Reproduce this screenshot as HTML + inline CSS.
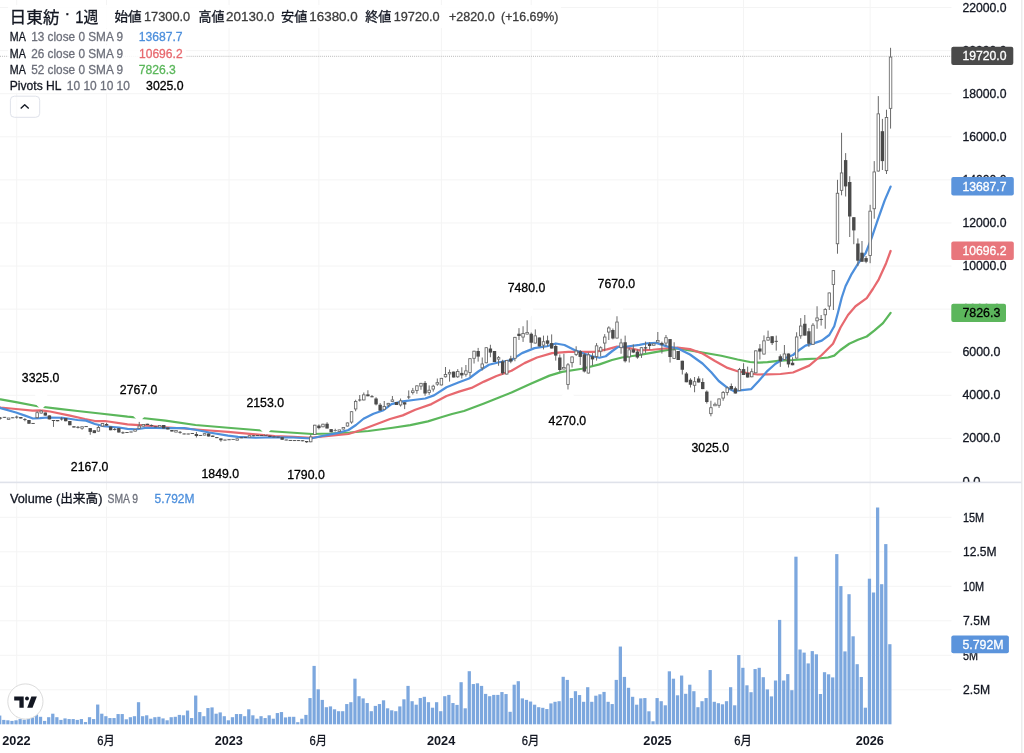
<!DOCTYPE html>
<html lang="ja"><head><meta charset="utf-8"><title>日東紡 1週</title><style>html,body{margin:0;padding:0;background:#fff}body{width:1024px;height:753px;overflow:hidden}</style></head><body>
<svg width="1024" height="753" viewBox="0 0 1024 753" style="display:block;font-family:'Liberation Sans','Noto Sans CJK JP',sans-serif">
<rect width="1024" height="753" fill="#fff"/>
<rect x="16.23" y="0" width="1" height="725.5" fill="#f4f4f4"/>
<rect x="106.07" y="0" width="1" height="725.5" fill="#f4f4f4"/>
<rect x="228.56" y="0" width="1" height="725.5" fill="#f4f4f4"/>
<rect x="318.40" y="0" width="1" height="725.5" fill="#f4f4f4"/>
<rect x="440.90" y="0" width="1" height="725.5" fill="#f4f4f4"/>
<rect x="530.73" y="0" width="1" height="725.5" fill="#f4f4f4"/>
<rect x="657.31" y="0" width="1" height="725.5" fill="#f4f4f4"/>
<rect x="743.06" y="0" width="1" height="725.5" fill="#f4f4f4"/>
<rect x="869.64" y="0" width="1" height="725.5" fill="#f4f4f4"/>
<rect x="0" y="437.91" width="951.5" height="1" fill="#f4f4f4"/>
<rect x="0" y="394.82" width="951.5" height="1" fill="#f4f4f4"/>
<rect x="0" y="351.73" width="951.5" height="1" fill="#f4f4f4"/>
<rect x="0" y="308.64" width="951.5" height="1" fill="#f4f4f4"/>
<rect x="0" y="265.55" width="951.5" height="1" fill="#f4f4f4"/>
<rect x="0" y="222.46" width="951.5" height="1" fill="#f4f4f4"/>
<rect x="0" y="179.37" width="951.5" height="1" fill="#f4f4f4"/>
<rect x="0" y="136.28" width="951.5" height="1" fill="#f4f4f4"/>
<rect x="0" y="93.19" width="951.5" height="1" fill="#f4f4f4"/>
<rect x="0" y="50.10" width="951.5" height="1" fill="#f4f4f4"/>
<rect x="0" y="7.01" width="951.5" height="1" fill="#f4f4f4"/>
<rect x="0" y="689.30" width="951.5" height="1" fill="#f4f4f4"/>
<rect x="0" y="654.80" width="951.5" height="1" fill="#f4f4f4"/>
<rect x="0" y="620.30" width="951.5" height="1" fill="#f4f4f4"/>
<rect x="0" y="585.80" width="951.5" height="1" fill="#f4f4f4"/>
<rect x="0" y="551.30" width="951.5" height="1" fill="#f4f4f4"/>
<rect x="0" y="516.80" width="951.5" height="1" fill="#f4f4f4"/>
<rect x="1021" y="0" width="1.5" height="753" fill="#ececec"/>
<rect x="0" y="481.6" width="1021.5" height="1.6" fill="#dfe2ea"/>
<line x1="0" y1="56.3" x2="951.5" y2="56.3" stroke="#b9b9b9" stroke-width="1" stroke-dasharray="1 1.05"/>
<rect x="-1.92" y="715.55" width="3.25" height="8.75" fill="#7ca7de"/>
<rect x="2.16" y="719.90" width="3.25" height="4.40" fill="#7ca7de"/>
<rect x="6.25" y="720.30" width="3.25" height="4.00" fill="#7ca7de"/>
<rect x="10.33" y="720.90" width="3.25" height="3.40" fill="#7ca7de"/>
<rect x="14.41" y="720.30" width="3.25" height="4.00" fill="#7ca7de"/>
<rect x="18.50" y="719.05" width="3.25" height="5.25" fill="#7ca7de"/>
<rect x="22.58" y="719.70" width="3.25" height="4.60" fill="#7ca7de"/>
<rect x="26.66" y="718.70" width="3.25" height="5.60" fill="#7ca7de"/>
<rect x="30.75" y="717.40" width="3.25" height="6.90" fill="#7ca7de"/>
<rect x="34.83" y="714.30" width="3.25" height="10.00" fill="#7ca7de"/>
<rect x="38.91" y="716.80" width="3.25" height="7.50" fill="#7ca7de"/>
<rect x="43.00" y="720.90" width="3.25" height="3.40" fill="#7ca7de"/>
<rect x="47.08" y="717.20" width="3.25" height="7.10" fill="#7ca7de"/>
<rect x="51.16" y="713.70" width="3.25" height="10.60" fill="#7ca7de"/>
<rect x="55.25" y="717.20" width="3.25" height="7.10" fill="#7ca7de"/>
<rect x="59.33" y="719.90" width="3.25" height="4.40" fill="#7ca7de"/>
<rect x="63.41" y="718.40" width="3.25" height="5.90" fill="#7ca7de"/>
<rect x="67.50" y="719.05" width="3.25" height="5.25" fill="#7ca7de"/>
<rect x="71.58" y="719.05" width="3.25" height="5.25" fill="#7ca7de"/>
<rect x="75.66" y="719.90" width="3.25" height="4.40" fill="#7ca7de"/>
<rect x="79.75" y="719.05" width="3.25" height="5.25" fill="#7ca7de"/>
<rect x="83.83" y="722.05" width="3.25" height="2.25" fill="#7ca7de"/>
<rect x="87.91" y="717.20" width="3.25" height="7.10" fill="#7ca7de"/>
<rect x="92.00" y="719.05" width="3.25" height="5.25" fill="#7ca7de"/>
<rect x="96.08" y="704.55" width="3.25" height="19.75" fill="#7ca7de"/>
<rect x="100.16" y="713.70" width="3.25" height="10.60" fill="#7ca7de"/>
<rect x="104.25" y="716.20" width="3.25" height="8.10" fill="#7ca7de"/>
<rect x="108.33" y="718.05" width="3.25" height="6.25" fill="#7ca7de"/>
<rect x="112.41" y="718.05" width="3.25" height="6.25" fill="#7ca7de"/>
<rect x="116.50" y="714.05" width="3.25" height="10.25" fill="#7ca7de"/>
<rect x="120.58" y="714.05" width="3.25" height="10.25" fill="#7ca7de"/>
<rect x="124.66" y="719.30" width="3.25" height="5.00" fill="#7ca7de"/>
<rect x="128.75" y="717.20" width="3.25" height="7.10" fill="#7ca7de"/>
<rect x="132.83" y="716.20" width="3.25" height="8.10" fill="#7ca7de"/>
<rect x="136.91" y="702.20" width="3.25" height="22.10" fill="#7ca7de"/>
<rect x="141.00" y="716.20" width="3.25" height="8.10" fill="#7ca7de"/>
<rect x="145.08" y="715.30" width="3.25" height="9.00" fill="#7ca7de"/>
<rect x="149.16" y="718.70" width="3.25" height="5.60" fill="#7ca7de"/>
<rect x="153.25" y="717.20" width="3.25" height="7.10" fill="#7ca7de"/>
<rect x="157.33" y="716.80" width="3.25" height="7.50" fill="#7ca7de"/>
<rect x="161.41" y="718.40" width="3.25" height="5.90" fill="#7ca7de"/>
<rect x="165.50" y="720.30" width="3.25" height="4.00" fill="#7ca7de"/>
<rect x="169.58" y="717.20" width="3.25" height="7.10" fill="#7ca7de"/>
<rect x="173.66" y="716.80" width="3.25" height="7.50" fill="#7ca7de"/>
<rect x="177.75" y="714.90" width="3.25" height="9.40" fill="#7ca7de"/>
<rect x="181.83" y="715.30" width="3.25" height="9.00" fill="#7ca7de"/>
<rect x="185.91" y="710.55" width="3.25" height="13.75" fill="#7ca7de"/>
<rect x="190.00" y="718.05" width="3.25" height="6.25" fill="#7ca7de"/>
<rect x="194.08" y="695.55" width="3.25" height="28.75" fill="#7ca7de"/>
<rect x="198.16" y="712.05" width="3.25" height="12.25" fill="#7ca7de"/>
<rect x="202.25" y="716.20" width="3.25" height="8.10" fill="#7ca7de"/>
<rect x="206.33" y="708.05" width="3.25" height="16.25" fill="#7ca7de"/>
<rect x="210.41" y="707.40" width="3.25" height="16.90" fill="#7ca7de"/>
<rect x="214.49" y="713.70" width="3.25" height="10.60" fill="#7ca7de"/>
<rect x="218.58" y="712.40" width="3.25" height="11.90" fill="#7ca7de"/>
<rect x="222.66" y="716.20" width="3.25" height="8.10" fill="#7ca7de"/>
<rect x="226.74" y="720.30" width="3.25" height="4.00" fill="#7ca7de"/>
<rect x="230.83" y="717.20" width="3.25" height="7.10" fill="#7ca7de"/>
<rect x="234.91" y="714.05" width="3.25" height="10.25" fill="#7ca7de"/>
<rect x="238.99" y="714.05" width="3.25" height="10.25" fill="#7ca7de"/>
<rect x="243.08" y="716.20" width="3.25" height="8.10" fill="#7ca7de"/>
<rect x="247.16" y="709.30" width="3.25" height="15.00" fill="#7ca7de"/>
<rect x="251.24" y="715.30" width="3.25" height="9.00" fill="#7ca7de"/>
<rect x="255.33" y="718.70" width="3.25" height="5.60" fill="#7ca7de"/>
<rect x="259.41" y="716.20" width="3.25" height="8.10" fill="#7ca7de"/>
<rect x="263.49" y="718.05" width="3.25" height="6.25" fill="#7ca7de"/>
<rect x="267.58" y="715.30" width="3.25" height="9.00" fill="#7ca7de"/>
<rect x="271.66" y="718.70" width="3.25" height="5.60" fill="#7ca7de"/>
<rect x="275.74" y="713.05" width="3.25" height="11.25" fill="#7ca7de"/>
<rect x="279.83" y="712.05" width="3.25" height="12.25" fill="#7ca7de"/>
<rect x="283.91" y="717.40" width="3.25" height="6.90" fill="#7ca7de"/>
<rect x="287.99" y="716.80" width="3.25" height="7.50" fill="#7ca7de"/>
<rect x="292.08" y="716.80" width="3.25" height="7.50" fill="#7ca7de"/>
<rect x="296.16" y="722.20" width="3.25" height="2.10" fill="#7ca7de"/>
<rect x="300.24" y="718.70" width="3.25" height="5.60" fill="#7ca7de"/>
<rect x="304.33" y="714.90" width="3.25" height="9.40" fill="#7ca7de"/>
<rect x="308.41" y="698.05" width="3.25" height="26.25" fill="#7ca7de"/>
<rect x="312.49" y="665.90" width="3.25" height="58.40" fill="#7ca7de"/>
<rect x="316.58" y="689.30" width="3.25" height="35.00" fill="#7ca7de"/>
<rect x="320.66" y="699.90" width="3.25" height="24.40" fill="#7ca7de"/>
<rect x="324.74" y="707.20" width="3.25" height="17.10" fill="#7ca7de"/>
<rect x="328.83" y="706.40" width="3.25" height="17.90" fill="#7ca7de"/>
<rect x="332.91" y="709.30" width="3.25" height="15.00" fill="#7ca7de"/>
<rect x="336.99" y="711.20" width="3.25" height="13.10" fill="#7ca7de"/>
<rect x="341.08" y="711.20" width="3.25" height="13.10" fill="#7ca7de"/>
<rect x="345.16" y="704.05" width="3.25" height="20.25" fill="#7ca7de"/>
<rect x="349.24" y="702.20" width="3.25" height="22.10" fill="#7ca7de"/>
<rect x="353.33" y="678.70" width="3.25" height="45.60" fill="#7ca7de"/>
<rect x="357.41" y="696.20" width="3.25" height="28.10" fill="#7ca7de"/>
<rect x="361.49" y="698.40" width="3.25" height="25.90" fill="#7ca7de"/>
<rect x="365.58" y="703.05" width="3.25" height="21.25" fill="#7ca7de"/>
<rect x="369.66" y="711.20" width="3.25" height="13.10" fill="#7ca7de"/>
<rect x="373.74" y="705.90" width="3.25" height="18.40" fill="#7ca7de"/>
<rect x="377.83" y="704.05" width="3.25" height="20.25" fill="#7ca7de"/>
<rect x="381.91" y="700.30" width="3.25" height="24.00" fill="#7ca7de"/>
<rect x="385.99" y="708.30" width="3.25" height="16.00" fill="#7ca7de"/>
<rect x="390.08" y="710.30" width="3.25" height="14.00" fill="#7ca7de"/>
<rect x="394.16" y="711.20" width="3.25" height="13.10" fill="#7ca7de"/>
<rect x="398.24" y="706.40" width="3.25" height="17.90" fill="#7ca7de"/>
<rect x="402.33" y="699.30" width="3.25" height="25.00" fill="#7ca7de"/>
<rect x="406.41" y="685.90" width="3.25" height="38.40" fill="#7ca7de"/>
<rect x="410.49" y="701.20" width="3.25" height="23.10" fill="#7ca7de"/>
<rect x="414.58" y="704.70" width="3.25" height="19.60" fill="#7ca7de"/>
<rect x="418.66" y="698.05" width="3.25" height="26.25" fill="#7ca7de"/>
<rect x="422.74" y="696.80" width="3.25" height="27.50" fill="#7ca7de"/>
<rect x="426.83" y="702.20" width="3.25" height="22.10" fill="#7ca7de"/>
<rect x="430.91" y="707.70" width="3.25" height="16.60" fill="#7ca7de"/>
<rect x="434.99" y="702.20" width="3.25" height="22.10" fill="#7ca7de"/>
<rect x="439.08" y="711.20" width="3.25" height="13.10" fill="#7ca7de"/>
<rect x="443.16" y="696.20" width="3.25" height="28.10" fill="#7ca7de"/>
<rect x="447.24" y="694.90" width="3.25" height="29.40" fill="#7ca7de"/>
<rect x="451.33" y="703.05" width="3.25" height="21.25" fill="#7ca7de"/>
<rect x="455.41" y="704.90" width="3.25" height="19.40" fill="#7ca7de"/>
<rect x="459.49" y="682.20" width="3.25" height="42.10" fill="#7ca7de"/>
<rect x="463.58" y="708.30" width="3.25" height="16.00" fill="#7ca7de"/>
<rect x="467.66" y="671.20" width="3.25" height="53.10" fill="#7ca7de"/>
<rect x="471.74" y="684.05" width="3.25" height="40.25" fill="#7ca7de"/>
<rect x="475.83" y="683.30" width="3.25" height="41.00" fill="#7ca7de"/>
<rect x="479.91" y="685.90" width="3.25" height="38.40" fill="#7ca7de"/>
<rect x="483.99" y="693.90" width="3.25" height="30.40" fill="#7ca7de"/>
<rect x="488.08" y="696.20" width="3.25" height="28.10" fill="#7ca7de"/>
<rect x="492.16" y="694.90" width="3.25" height="29.40" fill="#7ca7de"/>
<rect x="496.24" y="694.90" width="3.25" height="29.40" fill="#7ca7de"/>
<rect x="500.33" y="692.05" width="3.25" height="32.25" fill="#7ca7de"/>
<rect x="504.41" y="694.05" width="3.25" height="30.25" fill="#7ca7de"/>
<rect x="508.49" y="711.80" width="3.25" height="12.50" fill="#7ca7de"/>
<rect x="512.58" y="684.70" width="3.25" height="39.60" fill="#7ca7de"/>
<rect x="516.66" y="681.20" width="3.25" height="43.10" fill="#7ca7de"/>
<rect x="520.74" y="698.40" width="3.25" height="25.90" fill="#7ca7de"/>
<rect x="524.83" y="699.90" width="3.25" height="24.40" fill="#7ca7de"/>
<rect x="528.91" y="701.55" width="3.25" height="22.75" fill="#7ca7de"/>
<rect x="532.99" y="704.70" width="3.25" height="19.60" fill="#7ca7de"/>
<rect x="537.08" y="707.20" width="3.25" height="17.10" fill="#7ca7de"/>
<rect x="541.16" y="707.80" width="3.25" height="16.50" fill="#7ca7de"/>
<rect x="545.24" y="709.05" width="3.25" height="15.25" fill="#7ca7de"/>
<rect x="549.33" y="703.40" width="3.25" height="20.90" fill="#7ca7de"/>
<rect x="553.41" y="701.80" width="3.25" height="22.50" fill="#7ca7de"/>
<rect x="557.49" y="701.20" width="3.25" height="23.10" fill="#7ca7de"/>
<rect x="561.58" y="676.80" width="3.25" height="47.50" fill="#7ca7de"/>
<rect x="565.66" y="679.90" width="3.25" height="44.40" fill="#7ca7de"/>
<rect x="569.74" y="698.05" width="3.25" height="26.25" fill="#7ca7de"/>
<rect x="573.83" y="691.20" width="3.25" height="33.10" fill="#7ca7de"/>
<rect x="577.91" y="695.05" width="3.25" height="29.25" fill="#7ca7de"/>
<rect x="581.99" y="701.80" width="3.25" height="22.50" fill="#7ca7de"/>
<rect x="586.08" y="687.20" width="3.25" height="37.10" fill="#7ca7de"/>
<rect x="590.16" y="701.80" width="3.25" height="22.50" fill="#7ca7de"/>
<rect x="594.24" y="695.70" width="3.25" height="28.60" fill="#7ca7de"/>
<rect x="598.33" y="694.30" width="3.25" height="30.00" fill="#7ca7de"/>
<rect x="602.41" y="691.90" width="3.25" height="32.40" fill="#7ca7de"/>
<rect x="606.49" y="701.80" width="3.25" height="22.50" fill="#7ca7de"/>
<rect x="610.57" y="704.05" width="3.25" height="20.25" fill="#7ca7de"/>
<rect x="614.66" y="679.90" width="3.25" height="44.40" fill="#7ca7de"/>
<rect x="618.74" y="646.55" width="3.25" height="77.75" fill="#7ca7de"/>
<rect x="622.82" y="676.90" width="3.25" height="47.40" fill="#7ca7de"/>
<rect x="626.91" y="687.80" width="3.25" height="36.50" fill="#7ca7de"/>
<rect x="630.99" y="696.80" width="3.25" height="27.50" fill="#7ca7de"/>
<rect x="635.07" y="704.70" width="3.25" height="19.60" fill="#7ca7de"/>
<rect x="639.16" y="698.40" width="3.25" height="25.90" fill="#7ca7de"/>
<rect x="643.24" y="698.05" width="3.25" height="26.25" fill="#7ca7de"/>
<rect x="647.32" y="711.30" width="3.25" height="13.00" fill="#7ca7de"/>
<rect x="651.41" y="721.30" width="3.25" height="3.00" fill="#7ca7de"/>
<rect x="655.49" y="698.05" width="3.25" height="26.25" fill="#7ca7de"/>
<rect x="659.57" y="701.20" width="3.25" height="23.10" fill="#7ca7de"/>
<rect x="663.66" y="705.30" width="3.25" height="19.00" fill="#7ca7de"/>
<rect x="667.74" y="671.30" width="3.25" height="53.00" fill="#7ca7de"/>
<rect x="671.82" y="678.70" width="3.25" height="45.60" fill="#7ca7de"/>
<rect x="675.91" y="695.30" width="3.25" height="29.00" fill="#7ca7de"/>
<rect x="679.99" y="675.55" width="3.25" height="48.75" fill="#7ca7de"/>
<rect x="684.07" y="693.80" width="3.25" height="30.50" fill="#7ca7de"/>
<rect x="688.16" y="684.70" width="3.25" height="39.60" fill="#7ca7de"/>
<rect x="692.24" y="691.20" width="3.25" height="33.10" fill="#7ca7de"/>
<rect x="696.32" y="707.20" width="3.25" height="17.10" fill="#7ca7de"/>
<rect x="700.41" y="701.20" width="3.25" height="23.10" fill="#7ca7de"/>
<rect x="704.49" y="698.05" width="3.25" height="26.25" fill="#7ca7de"/>
<rect x="708.57" y="670.05" width="3.25" height="54.25" fill="#7ca7de"/>
<rect x="712.66" y="701.80" width="3.25" height="22.50" fill="#7ca7de"/>
<rect x="716.74" y="703.20" width="3.25" height="21.10" fill="#7ca7de"/>
<rect x="720.82" y="704.30" width="3.25" height="20.00" fill="#7ca7de"/>
<rect x="724.91" y="701.20" width="3.25" height="23.10" fill="#7ca7de"/>
<rect x="728.99" y="687.20" width="3.25" height="37.10" fill="#7ca7de"/>
<rect x="733.07" y="705.30" width="3.25" height="19.00" fill="#7ca7de"/>
<rect x="737.16" y="655.05" width="3.25" height="69.25" fill="#7ca7de"/>
<rect x="741.24" y="667.80" width="3.25" height="56.50" fill="#7ca7de"/>
<rect x="745.32" y="685.30" width="3.25" height="39.00" fill="#7ca7de"/>
<rect x="749.41" y="692.20" width="3.25" height="32.10" fill="#7ca7de"/>
<rect x="753.49" y="669.05" width="3.25" height="55.25" fill="#7ca7de"/>
<rect x="757.57" y="667.80" width="3.25" height="56.50" fill="#7ca7de"/>
<rect x="761.66" y="677.20" width="3.25" height="47.10" fill="#7ca7de"/>
<rect x="765.74" y="689.40" width="3.25" height="34.90" fill="#7ca7de"/>
<rect x="769.82" y="696.40" width="3.25" height="27.90" fill="#7ca7de"/>
<rect x="773.91" y="680.50" width="3.25" height="43.80" fill="#7ca7de"/>
<rect x="777.99" y="619.90" width="3.25" height="104.40" fill="#7ca7de"/>
<rect x="782.07" y="680.50" width="3.25" height="43.80" fill="#7ca7de"/>
<rect x="786.16" y="674.10" width="3.25" height="50.20" fill="#7ca7de"/>
<rect x="790.24" y="690.20" width="3.25" height="34.10" fill="#7ca7de"/>
<rect x="794.32" y="556.70" width="3.25" height="167.60" fill="#7ca7de"/>
<rect x="798.41" y="649.50" width="3.25" height="74.80" fill="#7ca7de"/>
<rect x="802.49" y="652.60" width="3.25" height="71.70" fill="#7ca7de"/>
<rect x="806.57" y="663.40" width="3.25" height="60.90" fill="#7ca7de"/>
<rect x="810.66" y="651.10" width="3.25" height="73.20" fill="#7ca7de"/>
<rect x="814.74" y="654.30" width="3.25" height="70.00" fill="#7ca7de"/>
<rect x="818.82" y="694.00" width="3.25" height="30.30" fill="#7ca7de"/>
<rect x="822.91" y="672.20" width="3.25" height="52.10" fill="#7ca7de"/>
<rect x="826.99" y="674.30" width="3.25" height="50.00" fill="#7ca7de"/>
<rect x="831.07" y="677.40" width="3.25" height="46.90" fill="#7ca7de"/>
<rect x="835.16" y="554.10" width="3.25" height="170.20" fill="#7ca7de"/>
<rect x="839.24" y="586.10" width="3.25" height="138.20" fill="#7ca7de"/>
<rect x="843.32" y="651.40" width="3.25" height="72.90" fill="#7ca7de"/>
<rect x="847.41" y="594.20" width="3.25" height="130.10" fill="#7ca7de"/>
<rect x="851.49" y="636.30" width="3.25" height="88.00" fill="#7ca7de"/>
<rect x="855.57" y="664.20" width="3.25" height="60.10" fill="#7ca7de"/>
<rect x="859.66" y="677.00" width="3.25" height="47.30" fill="#7ca7de"/>
<rect x="863.74" y="707.70" width="3.25" height="16.60" fill="#7ca7de"/>
<rect x="867.82" y="578.70" width="3.25" height="145.60" fill="#7ca7de"/>
<rect x="871.91" y="592.50" width="3.25" height="131.80" fill="#7ca7de"/>
<rect x="875.99" y="507.50" width="3.25" height="216.80" fill="#7ca7de"/>
<rect x="880.07" y="584.20" width="3.25" height="140.10" fill="#7ca7de"/>
<rect x="884.16" y="544.10" width="3.25" height="180.20" fill="#7ca7de"/>
<rect x="888.24" y="644.20" width="3.25" height="80.10" fill="#7ca7de"/>
<polyline points="0.00,399.30 0.60,399.40 16.00,402.20 37.50,406.25 57.00,408.60 77.50,411.00 100.00,413.50 127.50,416.70 146.75,418.50 165.50,420.60 195.50,425.00 228.00,427.75 255.50,430.00 274.75,431.50 293.50,432.75 312.25,434.00 331.00,433.50 349.75,432.50 368.50,431.00 383.50,429.00 392.75,427.75 410.30,425.20 427.90,421.40 442.00,417.00 452.00,414.00 464.00,411.00 484.00,403.50 496.50,398.50 511.50,392.50 530.75,383.75 549.50,375.60 562.00,371.90 582.00,368.75 599.50,364.40 612.00,360.00 622.00,357.50 639.50,355.00 652.50,352.60 665.00,350.40 677.50,348.50 690.00,350.40 702.50,352.50 721.25,355.75 737.50,359.50 750.00,362.00 758.75,362.60 767.50,362.20 780.50,360.60 793.00,360.00 805.50,359.10 818.00,358.50 828.00,357.50 834.25,355.60 840.50,350.00 849.25,343.75 858.00,339.75 866.75,336.50 874.25,330.60 883.00,323.10 890.60,312.90" fill="none" stroke="#5bb75b" stroke-width="2.25" stroke-linejoin="round" stroke-linecap="round"/>
<polyline points="0.00,407.40 0.60,407.50 16.00,409.00 32.50,410.60 41.00,410.40 50.00,411.50 70.00,415.60 85.00,419.00 95.00,421.00 105.00,421.00 127.50,424.30 146.75,425.60 165.50,427.25 184.25,428.50 203.00,430.00 228.00,431.90 255.50,434.40 274.75,436.00 293.50,436.90 311.00,437.75 331.00,435.60 348.50,434.00 361.00,430.00 383.50,421.50 390.00,419.00 402.75,415.40 415.25,409.75 431.50,404.10 446.50,396.00 459.00,391.60 471.50,387.90 484.00,381.60 496.50,376.00 511.50,370.70 524.50,363.10 537.00,357.50 552.00,353.10 568.25,351.90 582.00,351.90 594.50,351.90 607.00,349.40 617.00,346.60 627.00,347.50 639.50,350.30 652.50,349.75 665.00,348.50 677.50,347.50 690.00,349.10 702.50,353.50 715.00,361.00 727.50,367.90 737.50,371.25 750.00,373.50 757.50,374.50 767.50,374.30 780.50,374.00 793.00,372.50 809.25,365.60 821.75,355.00 833.00,343.75 840.50,327.50 848.00,315.00 855.50,306.25 866.75,298.10 873.00,288.75 878.80,279.30 886.10,263.20 890.60,251.00" fill="none" stroke="#e7696f" stroke-width="2.25" stroke-linejoin="round" stroke-linecap="round"/>
<polyline points="0.00,407.90 0.60,408.10 16.00,412.50 25.00,415.60 33.00,418.50 40.00,418.10 47.50,417.50 62.50,417.75 77.50,420.00 86.00,420.60 95.00,424.00 104.00,426.25 119.00,427.50 127.50,428.80 135.50,429.40 146.75,427.75 165.50,428.10 184.25,428.10 195.50,429.75 209.25,432.50 228.00,435.60 238.00,436.90 255.50,437.75 274.75,437.25 293.50,437.50 311.00,438.50 321.00,436.25 337.25,433.10 348.50,430.00 356.00,425.00 363.50,418.75 373.50,413.75 383.50,410.20 391.50,404.10 402.75,401.40 415.25,399.75 425.25,398.50 434.00,395.40 446.50,387.25 459.00,382.25 469.00,378.50 479.00,371.00 489.00,364.75 499.00,362.25 511.50,360.00 522.00,353.10 534.50,348.10 547.00,346.25 555.75,343.50 564.50,345.00 574.50,350.00 584.50,353.75 592.00,356.25 599.50,357.75 605.75,356.25 612.00,351.25 618.25,346.90 627.00,346.50 639.50,344.90 647.50,343.25 656.25,342.90 667.50,346.60 677.50,348.25 690.00,354.50 702.50,363.50 711.25,372.25 718.75,381.00 727.50,387.90 733.75,391.00 740.00,390.40 751.25,389.10 758.75,381.00 767.50,370.80 775.50,363.75 784.25,358.50 793.00,355.00 799.25,350.00 805.50,345.60 814.25,343.10 821.75,340.60 829.25,335.00 834.25,326.25 838.00,312.50 841.75,297.50 845.50,286.25 851.10,274.90 858.40,263.20 865.70,253.00 871.50,238.40 877.40,220.90 884.70,200.40 890.60,186.60" fill="none" stroke="#4d8fdc" stroke-width="2.25" stroke-linejoin="round" stroke-linecap="round"/>
<polygon points="41.23,409.86 35.23,403.86 35.23,388.86 47.23,388.86 47.23,403.86" fill="#fff"/>
<polygon points="139.23,421.88 133.23,415.88 133.23,400.88 145.23,400.88 145.23,415.88" fill="#fff"/>
<polygon points="265.81,435.11 259.81,429.11 259.81,414.11 271.81,414.11 271.81,429.11" fill="#fff"/>
<polygon points="527.15,320.34 521.15,314.34 521.15,299.34 533.15,299.34 533.15,314.34" fill="#fff"/>
<polygon points="616.98,316.25 610.98,310.25 610.98,295.25 622.98,295.25 622.98,310.25" fill="#fff"/>
<polygon points="90.23,434.81 84.23,440.81 84.23,455.81 96.23,455.81 96.23,440.81" fill="#fff"/>
<polygon points="220.90,441.66 214.90,447.66 214.90,462.66 226.90,462.66 226.90,447.66" fill="#fff"/>
<polygon points="306.65,442.93 300.65,448.93 300.65,463.93 312.65,463.93 312.65,448.93" fill="#fff"/>
<polygon points="567.98,389.50 561.98,395.50 561.98,410.50 573.98,410.50 573.98,395.50" fill="#fff"/>
<polygon points="710.89,416.33 704.89,422.33 704.89,437.33 716.89,437.33 716.89,422.33" fill="#fff"/>
<rect x="-0.10" y="417.00" width="1" height="2.50" fill="#6a6a6a"/>
<rect x="-1.30" y="417.65" width="3.4" height="0.90" fill="#4a4a4a"/>
<rect x="3.98" y="417.00" width="1" height="0.60" fill="#6a6a6a"/>
<rect x="2.78" y="416.85" width="3.4" height="0.90" fill="#4a4a4a"/>
<rect x="8.07" y="418.00" width="1" height="1.50" fill="#6a6a6a"/>
<rect x="7.27" y="418.00" width="2.6" height="1.50" fill="#fff" stroke="#666" stroke-width="0.8"/>
<rect x="12.15" y="417.50" width="1" height="0.60" fill="#6a6a6a"/>
<rect x="10.95" y="417.35" width="3.4" height="0.90" fill="#4a4a4a"/>
<rect x="16.23" y="415.60" width="1" height="3.15" fill="#6a6a6a"/>
<rect x="15.03" y="416.65" width="3.4" height="0.90" fill="#4a4a4a"/>
<rect x="20.32" y="417.00" width="1" height="1.50" fill="#6a6a6a"/>
<rect x="19.12" y="417.00" width="3.4" height="1.50" fill="#4a4a4a"/>
<rect x="24.40" y="418.10" width="1" height="3.15" fill="#6a6a6a"/>
<rect x="23.20" y="419.15" width="3.4" height="0.90" fill="#4a4a4a"/>
<rect x="28.48" y="420.00" width="1" height="3.75" fill="#6a6a6a"/>
<rect x="27.28" y="420.00" width="3.4" height="3.75" fill="#4a4a4a"/>
<rect x="32.57" y="423.10" width="1" height="0.60" fill="#6a6a6a"/>
<rect x="31.37" y="422.95" width="3.4" height="0.90" fill="#4a4a4a"/>
<rect x="36.65" y="411.25" width="1" height="7.25" fill="#6a6a6a"/>
<rect x="35.90" y="412.70" width="2.5" height="4.95" fill="#fff" stroke="#666" stroke-width="0.85"/>
<rect x="40.73" y="409.90" width="1" height="3.60" fill="#6a6a6a"/>
<rect x="39.98" y="411.05" width="2.5" height="2.00" fill="#fff" stroke="#666" stroke-width="0.85"/>
<rect x="44.82" y="412.50" width="1" height="3.10" fill="#6a6a6a"/>
<rect x="43.62" y="412.50" width="3.4" height="3.10" fill="#4a4a4a"/>
<rect x="48.90" y="415.40" width="1" height="4.00" fill="#6a6a6a"/>
<rect x="47.70" y="415.40" width="3.4" height="4.00" fill="#4a4a4a"/>
<rect x="52.98" y="420.00" width="1" height="6.90" fill="#6a6a6a"/>
<rect x="51.78" y="420.00" width="3.4" height="1.00" fill="#4a4a4a"/>
<rect x="57.07" y="420.00" width="1" height="1.25" fill="#6a6a6a"/>
<rect x="55.87" y="420.00" width="3.4" height="1.25" fill="#4a4a4a"/>
<rect x="61.15" y="416.90" width="1" height="3.70" fill="#6a6a6a"/>
<rect x="59.95" y="418.55" width="3.4" height="0.90" fill="#4a4a4a"/>
<rect x="65.23" y="418.10" width="1" height="3.15" fill="#6a6a6a"/>
<rect x="64.03" y="418.10" width="3.4" height="3.15" fill="#4a4a4a"/>
<rect x="69.32" y="421.00" width="1" height="4.25" fill="#6a6a6a"/>
<rect x="68.12" y="421.00" width="3.4" height="4.25" fill="#4a4a4a"/>
<rect x="73.40" y="426.25" width="1" height="1.25" fill="#6a6a6a"/>
<rect x="72.20" y="426.25" width="3.4" height="1.25" fill="#4a4a4a"/>
<rect x="77.48" y="426.00" width="1" height="2.50" fill="#6a6a6a"/>
<rect x="76.28" y="426.85" width="3.4" height="0.90" fill="#4a4a4a"/>
<rect x="81.57" y="426.50" width="1" height="3.25" fill="#6a6a6a"/>
<rect x="80.77" y="426.75" width="2.6" height="1.50" fill="#fff" stroke="#666" stroke-width="0.8"/>
<rect x="85.65" y="426.30" width="1" height="0.60" fill="#6a6a6a"/>
<rect x="84.45" y="426.15" width="3.4" height="0.90" fill="#4a4a4a"/>
<rect x="89.73" y="428.10" width="1" height="6.70" fill="#6a6a6a"/>
<rect x="88.53" y="428.10" width="3.4" height="3.80" fill="#4a4a4a"/>
<rect x="93.82" y="430.25" width="1" height="2.85" fill="#6a6a6a"/>
<rect x="92.62" y="430.25" width="3.4" height="2.85" fill="#4a4a4a"/>
<rect x="97.90" y="425.60" width="1" height="6.00" fill="#6a6a6a"/>
<rect x="97.15" y="427.55" width="2.5" height="3.60" fill="#fff" stroke="#666" stroke-width="0.85"/>
<rect x="101.98" y="423.10" width="1" height="3.40" fill="#6a6a6a"/>
<rect x="101.23" y="423.55" width="2.5" height="2.50" fill="#fff" stroke="#666" stroke-width="0.85"/>
<rect x="106.07" y="422.75" width="1" height="2.85" fill="#6a6a6a"/>
<rect x="104.87" y="424.00" width="3.4" height="1.60" fill="#4a4a4a"/>
<rect x="110.15" y="426.50" width="1" height="3.75" fill="#6a6a6a"/>
<rect x="108.95" y="426.50" width="3.4" height="3.75" fill="#4a4a4a"/>
<rect x="114.23" y="428.00" width="1" height="2.50" fill="#6a6a6a"/>
<rect x="113.03" y="428.95" width="3.4" height="0.90" fill="#4a4a4a"/>
<rect x="118.32" y="428.10" width="1" height="4.40" fill="#6a6a6a"/>
<rect x="117.12" y="428.10" width="3.4" height="4.40" fill="#4a4a4a"/>
<rect x="122.40" y="431.50" width="1" height="2.50" fill="#6a6a6a"/>
<rect x="121.20" y="432.35" width="3.4" height="0.90" fill="#4a4a4a"/>
<rect x="126.48" y="432.20" width="1" height="0.60" fill="#6a6a6a"/>
<rect x="125.28" y="432.05" width="3.4" height="0.90" fill="#4a4a4a"/>
<rect x="130.57" y="431.70" width="1" height="0.60" fill="#6a6a6a"/>
<rect x="129.37" y="431.55" width="3.4" height="0.90" fill="#4a4a4a"/>
<rect x="134.65" y="429.40" width="1" height="2.10" fill="#6a6a6a"/>
<rect x="133.85" y="429.70" width="2.6" height="1.50" fill="#fff" stroke="#666" stroke-width="0.8"/>
<rect x="138.73" y="421.90" width="1" height="6.85" fill="#6a6a6a"/>
<rect x="137.98" y="426.05" width="2.5" height="2.25" fill="#fff" stroke="#666" stroke-width="0.85"/>
<rect x="142.82" y="424.40" width="1" height="1.85" fill="#6a6a6a"/>
<rect x="142.02" y="424.57" width="2.6" height="1.50" fill="#fff" stroke="#666" stroke-width="0.8"/>
<rect x="146.90" y="423.75" width="1" height="1.25" fill="#6a6a6a"/>
<rect x="145.70" y="423.75" width="3.4" height="1.25" fill="#4a4a4a"/>
<rect x="150.98" y="424.50" width="1" height="2.00" fill="#6a6a6a"/>
<rect x="149.78" y="424.95" width="3.4" height="0.90" fill="#4a4a4a"/>
<rect x="155.07" y="426.50" width="1" height="0.75" fill="#6a6a6a"/>
<rect x="153.87" y="426.43" width="3.4" height="0.90" fill="#4a4a4a"/>
<rect x="159.15" y="425.40" width="1" height="1.85" fill="#6a6a6a"/>
<rect x="158.35" y="425.57" width="2.6" height="1.50" fill="#fff" stroke="#666" stroke-width="0.8"/>
<rect x="163.23" y="425.00" width="1" height="3.50" fill="#6a6a6a"/>
<rect x="162.03" y="425.00" width="3.4" height="3.50" fill="#4a4a4a"/>
<rect x="167.32" y="427.50" width="1" height="1.90" fill="#6a6a6a"/>
<rect x="166.12" y="427.50" width="3.4" height="1.90" fill="#4a4a4a"/>
<rect x="171.40" y="430.00" width="1" height="1.50" fill="#6a6a6a"/>
<rect x="170.20" y="430.00" width="3.4" height="1.50" fill="#4a4a4a"/>
<rect x="175.48" y="430.40" width="1" height="1.85" fill="#6a6a6a"/>
<rect x="174.68" y="430.57" width="2.6" height="1.50" fill="#fff" stroke="#666" stroke-width="0.8"/>
<rect x="179.57" y="431.00" width="1" height="2.75" fill="#6a6a6a"/>
<rect x="178.37" y="431.85" width="3.4" height="0.90" fill="#4a4a4a"/>
<rect x="183.65" y="433.50" width="1" height="0.90" fill="#6a6a6a"/>
<rect x="182.45" y="433.50" width="3.4" height="0.90" fill="#4a4a4a"/>
<rect x="187.73" y="433.70" width="1" height="0.60" fill="#6a6a6a"/>
<rect x="186.53" y="433.55" width="3.4" height="0.90" fill="#4a4a4a"/>
<rect x="191.82" y="433.10" width="1" height="0.90" fill="#6a6a6a"/>
<rect x="190.62" y="433.10" width="3.4" height="0.90" fill="#4a4a4a"/>
<rect x="195.90" y="431.90" width="1" height="5.60" fill="#6a6a6a"/>
<rect x="194.70" y="434.00" width="3.4" height="2.00" fill="#4a4a4a"/>
<rect x="199.98" y="435.10" width="1" height="0.60" fill="#6a6a6a"/>
<rect x="198.78" y="434.95" width="3.4" height="0.90" fill="#4a4a4a"/>
<rect x="204.07" y="433.50" width="1" height="1.75" fill="#6a6a6a"/>
<rect x="203.27" y="433.62" width="2.6" height="1.50" fill="#fff" stroke="#666" stroke-width="0.8"/>
<rect x="208.15" y="433.50" width="1" height="3.00" fill="#6a6a6a"/>
<rect x="206.95" y="433.50" width="3.4" height="3.00" fill="#4a4a4a"/>
<rect x="212.23" y="435.60" width="1" height="1.30" fill="#6a6a6a"/>
<rect x="211.03" y="435.60" width="3.4" height="1.30" fill="#4a4a4a"/>
<rect x="216.31" y="437.10" width="1" height="1.00" fill="#6a6a6a"/>
<rect x="215.11" y="437.10" width="3.4" height="1.00" fill="#4a4a4a"/>
<rect x="220.40" y="438.40" width="1" height="3.30" fill="#6a6a6a"/>
<rect x="219.20" y="438.40" width="3.4" height="1.85" fill="#4a4a4a"/>
<rect x="224.48" y="439.75" width="1" height="0.60" fill="#6a6a6a"/>
<rect x="223.28" y="439.60" width="3.4" height="0.90" fill="#4a4a4a"/>
<rect x="228.56" y="439.45" width="1" height="0.60" fill="#6a6a6a"/>
<rect x="227.36" y="439.30" width="3.4" height="0.90" fill="#4a4a4a"/>
<rect x="232.65" y="439.00" width="1" height="1.00" fill="#6a6a6a"/>
<rect x="231.45" y="439.00" width="3.4" height="1.00" fill="#777"/>
<rect x="236.73" y="438.75" width="1" height="1.50" fill="#6a6a6a"/>
<rect x="235.93" y="438.75" width="2.6" height="1.50" fill="#fff" stroke="#666" stroke-width="0.8"/>
<rect x="240.81" y="437.50" width="1" height="0.60" fill="#6a6a6a"/>
<rect x="239.61" y="437.35" width="3.4" height="0.90" fill="#4a4a4a"/>
<rect x="244.90" y="437.00" width="1" height="0.60" fill="#6a6a6a"/>
<rect x="243.70" y="436.85" width="3.4" height="0.90" fill="#4a4a4a"/>
<rect x="248.98" y="435.60" width="1" height="1.50" fill="#6a6a6a"/>
<rect x="248.18" y="435.60" width="2.6" height="1.50" fill="#fff" stroke="#666" stroke-width="0.8"/>
<rect x="253.06" y="435.25" width="1" height="1.00" fill="#6a6a6a"/>
<rect x="251.86" y="435.25" width="3.4" height="1.00" fill="#4a4a4a"/>
<rect x="257.15" y="435.30" width="1" height="0.60" fill="#6a6a6a"/>
<rect x="255.95" y="435.15" width="3.4" height="0.90" fill="#4a4a4a"/>
<rect x="261.23" y="435.30" width="1" height="0.60" fill="#6a6a6a"/>
<rect x="260.03" y="435.15" width="3.4" height="0.90" fill="#4a4a4a"/>
<rect x="265.31" y="435.10" width="1" height="0.40" fill="#6a6a6a"/>
<rect x="264.11" y="434.75" width="3.4" height="0.90" fill="#4a4a4a"/>
<rect x="269.40" y="435.60" width="1" height="1.30" fill="#6a6a6a"/>
<rect x="268.20" y="435.60" width="3.4" height="1.30" fill="#4a4a4a"/>
<rect x="273.48" y="436.60" width="1" height="0.60" fill="#6a6a6a"/>
<rect x="272.28" y="436.45" width="3.4" height="0.90" fill="#4a4a4a"/>
<rect x="277.56" y="436.80" width="1" height="0.60" fill="#6a6a6a"/>
<rect x="276.36" y="436.65" width="3.4" height="0.90" fill="#4a4a4a"/>
<rect x="281.65" y="437.25" width="1" height="2.50" fill="#6a6a6a"/>
<rect x="280.45" y="437.25" width="3.4" height="2.50" fill="#4a4a4a"/>
<rect x="285.73" y="439.70" width="1" height="0.60" fill="#6a6a6a"/>
<rect x="284.53" y="439.55" width="3.4" height="0.90" fill="#4a4a4a"/>
<rect x="289.81" y="440.10" width="1" height="0.60" fill="#6a6a6a"/>
<rect x="288.61" y="439.95" width="3.4" height="0.90" fill="#4a4a4a"/>
<rect x="293.90" y="440.30" width="1" height="0.60" fill="#6a6a6a"/>
<rect x="292.70" y="440.15" width="3.4" height="0.90" fill="#4a4a4a"/>
<rect x="297.98" y="440.30" width="1" height="0.60" fill="#6a6a6a"/>
<rect x="296.78" y="440.15" width="3.4" height="0.90" fill="#4a4a4a"/>
<rect x="302.06" y="440.25" width="1" height="1.00" fill="#6a6a6a"/>
<rect x="300.86" y="440.25" width="3.4" height="1.00" fill="#4a4a4a"/>
<rect x="306.15" y="441.00" width="1" height="1.90" fill="#6a6a6a"/>
<rect x="304.95" y="441.00" width="3.4" height="1.25" fill="#4a4a4a"/>
<rect x="310.23" y="434.40" width="1" height="7.85" fill="#6a6a6a"/>
<rect x="309.48" y="436.95" width="2.5" height="4.85" fill="#fff" stroke="#666" stroke-width="0.85"/>
<rect x="314.31" y="424.75" width="1" height="10.25" fill="#6a6a6a"/>
<rect x="313.56" y="425.20" width="2.5" height="9.35" fill="#fff" stroke="#666" stroke-width="0.85"/>
<rect x="318.40" y="424.40" width="1" height="5.00" fill="#6a6a6a"/>
<rect x="317.20" y="425.60" width="3.4" height="2.50" fill="#4a4a4a"/>
<rect x="322.48" y="423.75" width="1" height="3.50" fill="#6a6a6a"/>
<rect x="321.73" y="424.20" width="2.5" height="2.60" fill="#fff" stroke="#666" stroke-width="0.85"/>
<rect x="326.56" y="422.25" width="1" height="6.25" fill="#6a6a6a"/>
<rect x="325.36" y="423.75" width="3.4" height="4.75" fill="#4a4a4a"/>
<rect x="330.65" y="429.10" width="1" height="3.15" fill="#6a6a6a"/>
<rect x="329.45" y="429.10" width="3.4" height="3.15" fill="#4a4a4a"/>
<rect x="334.73" y="428.75" width="1" height="2.75" fill="#6a6a6a"/>
<rect x="333.53" y="430.15" width="3.4" height="0.90" fill="#777"/>
<rect x="338.81" y="429.75" width="1" height="1.75" fill="#6a6a6a"/>
<rect x="338.01" y="429.88" width="2.6" height="1.50" fill="#fff" stroke="#666" stroke-width="0.8"/>
<rect x="342.90" y="427.25" width="1" height="2.15" fill="#6a6a6a"/>
<rect x="342.10" y="427.57" width="2.6" height="1.50" fill="#fff" stroke="#666" stroke-width="0.8"/>
<rect x="346.98" y="422.50" width="1" height="4.00" fill="#6a6a6a"/>
<rect x="346.23" y="422.95" width="2.5" height="3.10" fill="#fff" stroke="#666" stroke-width="0.85"/>
<rect x="351.06" y="411.25" width="1" height="12.50" fill="#6a6a6a"/>
<rect x="350.31" y="411.70" width="2.5" height="10.35" fill="#fff" stroke="#666" stroke-width="0.85"/>
<rect x="355.15" y="399.75" width="1" height="11.50" fill="#6a6a6a"/>
<rect x="354.40" y="401.45" width="2.5" height="7.50" fill="#fff" stroke="#666" stroke-width="0.85"/>
<rect x="359.23" y="395.00" width="1" height="6.50" fill="#6a6a6a"/>
<rect x="358.03" y="399.55" width="3.4" height="0.90" fill="#4a4a4a"/>
<rect x="363.31" y="392.50" width="1" height="7.90" fill="#6a6a6a"/>
<rect x="362.56" y="394.85" width="2.5" height="5.10" fill="#fff" stroke="#666" stroke-width="0.85"/>
<rect x="367.40" y="390.25" width="1" height="6.00" fill="#6a6a6a"/>
<rect x="366.20" y="394.40" width="3.4" height="1.85" fill="#4a4a4a"/>
<rect x="371.48" y="395.00" width="1" height="2.25" fill="#6a6a6a"/>
<rect x="370.28" y="396.25" width="3.4" height="1.00" fill="#4a4a4a"/>
<rect x="375.56" y="397.25" width="1" height="8.15" fill="#6a6a6a"/>
<rect x="374.36" y="398.50" width="3.4" height="5.90" fill="#4a4a4a"/>
<rect x="379.65" y="403.10" width="1" height="7.50" fill="#6a6a6a"/>
<rect x="378.45" y="404.75" width="3.4" height="5.85" fill="#4a4a4a"/>
<rect x="383.73" y="401.00" width="1" height="8.75" fill="#6a6a6a"/>
<rect x="382.98" y="406.45" width="2.5" height="2.85" fill="#fff" stroke="#666" stroke-width="0.85"/>
<rect x="387.81" y="402.90" width="1" height="4.10" fill="#6a6a6a"/>
<rect x="387.06" y="403.35" width="2.5" height="1.60" fill="#fff" stroke="#666" stroke-width="0.85"/>
<rect x="391.90" y="396.00" width="1" height="5.60" fill="#6a6a6a"/>
<rect x="391.10" y="399.93" width="2.6" height="1.50" fill="#fff" stroke="#666" stroke-width="0.8"/>
<rect x="395.98" y="402.00" width="1" height="3.00" fill="#6a6a6a"/>
<rect x="394.78" y="402.00" width="3.4" height="3.00" fill="#4a4a4a"/>
<rect x="400.06" y="398.50" width="1" height="8.10" fill="#6a6a6a"/>
<rect x="399.31" y="400.85" width="2.5" height="4.10" fill="#fff" stroke="#666" stroke-width="0.85"/>
<rect x="404.15" y="402.25" width="1" height="6.85" fill="#6a6a6a"/>
<rect x="402.95" y="402.25" width="3.4" height="2.25" fill="#4a4a4a"/>
<rect x="408.23" y="390.40" width="1" height="8.70" fill="#6a6a6a"/>
<rect x="407.03" y="396.55" width="3.4" height="0.90" fill="#4a4a4a"/>
<rect x="412.31" y="387.90" width="1" height="6.60" fill="#6a6a6a"/>
<rect x="411.56" y="390.85" width="2.5" height="1.60" fill="#fff" stroke="#666" stroke-width="0.85"/>
<rect x="416.40" y="385.40" width="1" height="8.35" fill="#6a6a6a"/>
<rect x="415.65" y="385.85" width="2.5" height="4.70" fill="#fff" stroke="#666" stroke-width="0.85"/>
<rect x="420.48" y="382.90" width="1" height="6.85" fill="#6a6a6a"/>
<rect x="419.73" y="383.35" width="2.5" height="2.80" fill="#fff" stroke="#666" stroke-width="0.85"/>
<rect x="424.56" y="381.00" width="1" height="14.75" fill="#6a6a6a"/>
<rect x="423.36" y="382.90" width="3.4" height="10.60" fill="#4a4a4a"/>
<rect x="428.65" y="385.40" width="1" height="9.35" fill="#6a6a6a"/>
<rect x="427.90" y="390.20" width="2.5" height="2.25" fill="#fff" stroke="#666" stroke-width="0.85"/>
<rect x="432.73" y="384.75" width="1" height="6.85" fill="#6a6a6a"/>
<rect x="431.98" y="386.20" width="2.5" height="2.85" fill="#fff" stroke="#666" stroke-width="0.85"/>
<rect x="436.81" y="378.50" width="1" height="7.25" fill="#6a6a6a"/>
<rect x="436.01" y="382.62" width="2.6" height="1.50" fill="#fff" stroke="#666" stroke-width="0.8"/>
<rect x="440.90" y="377.90" width="1" height="7.50" fill="#6a6a6a"/>
<rect x="440.15" y="378.35" width="2.5" height="6.60" fill="#fff" stroke="#666" stroke-width="0.85"/>
<rect x="444.98" y="367.00" width="1" height="10.50" fill="#6a6a6a"/>
<rect x="444.23" y="374.55" width="2.5" height="2.25" fill="#fff" stroke="#666" stroke-width="0.85"/>
<rect x="449.06" y="369.50" width="1" height="12.10" fill="#6a6a6a"/>
<rect x="448.26" y="372.43" width="2.6" height="1.50" fill="#fff" stroke="#666" stroke-width="0.8"/>
<rect x="453.15" y="371.60" width="1" height="5.90" fill="#6a6a6a"/>
<rect x="451.95" y="371.60" width="3.4" height="5.90" fill="#4a4a4a"/>
<rect x="457.23" y="369.10" width="1" height="8.80" fill="#6a6a6a"/>
<rect x="456.48" y="371.45" width="2.5" height="5.35" fill="#fff" stroke="#666" stroke-width="0.85"/>
<rect x="461.31" y="367.25" width="1" height="11.25" fill="#6a6a6a"/>
<rect x="460.11" y="372.90" width="3.4" height="2.50" fill="#4a4a4a"/>
<rect x="465.40" y="365.00" width="1" height="11.60" fill="#6a6a6a"/>
<rect x="464.65" y="370.85" width="2.5" height="3.45" fill="#fff" stroke="#666" stroke-width="0.85"/>
<rect x="469.48" y="358.25" width="1" height="18.35" fill="#6a6a6a"/>
<rect x="468.73" y="358.70" width="2.5" height="13.75" fill="#fff" stroke="#666" stroke-width="0.85"/>
<rect x="473.56" y="350.75" width="1" height="12.75" fill="#6a6a6a"/>
<rect x="472.81" y="351.20" width="2.5" height="7.10" fill="#fff" stroke="#666" stroke-width="0.85"/>
<rect x="477.65" y="347.90" width="1" height="13.70" fill="#6a6a6a"/>
<rect x="476.45" y="351.00" width="3.4" height="5.60" fill="#4a4a4a"/>
<rect x="481.73" y="357.50" width="1" height="12.90" fill="#6a6a6a"/>
<rect x="480.98" y="363.95" width="2.5" height="3.85" fill="#fff" stroke="#666" stroke-width="0.85"/>
<rect x="485.81" y="347.25" width="1" height="16.00" fill="#6a6a6a"/>
<rect x="485.06" y="347.70" width="2.5" height="15.10" fill="#fff" stroke="#666" stroke-width="0.85"/>
<rect x="489.90" y="344.75" width="1" height="12.50" fill="#6a6a6a"/>
<rect x="488.70" y="348.50" width="3.4" height="4.10" fill="#4a4a4a"/>
<rect x="493.98" y="351.00" width="1" height="11.00" fill="#6a6a6a"/>
<rect x="492.78" y="351.00" width="3.4" height="11.00" fill="#4a4a4a"/>
<rect x="498.06" y="356.00" width="1" height="9.75" fill="#6a6a6a"/>
<rect x="497.26" y="357.62" width="2.6" height="1.50" fill="#fff" stroke="#666" stroke-width="0.8"/>
<rect x="502.15" y="359.75" width="1" height="15.00" fill="#6a6a6a"/>
<rect x="500.95" y="361.40" width="3.4" height="11.85" fill="#4a4a4a"/>
<rect x="506.23" y="360.00" width="1" height="14.50" fill="#6a6a6a"/>
<rect x="505.48" y="360.45" width="2.5" height="13.60" fill="#fff" stroke="#666" stroke-width="0.85"/>
<rect x="510.31" y="355.75" width="1" height="7.50" fill="#6a6a6a"/>
<rect x="509.11" y="358.50" width="3.4" height="3.10" fill="#4a4a4a"/>
<rect x="514.40" y="336.90" width="1" height="24.35" fill="#6a6a6a"/>
<rect x="513.65" y="337.35" width="2.5" height="20.95" fill="#fff" stroke="#666" stroke-width="0.85"/>
<rect x="518.48" y="328.10" width="1" height="11.90" fill="#6a6a6a"/>
<rect x="517.28" y="333.75" width="3.4" height="2.25" fill="#4a4a4a"/>
<rect x="522.56" y="326.25" width="1" height="15.65" fill="#6a6a6a"/>
<rect x="521.81" y="333.55" width="2.5" height="3.50" fill="#fff" stroke="#666" stroke-width="0.85"/>
<rect x="526.65" y="320.30" width="1" height="14.10" fill="#6a6a6a"/>
<rect x="525.85" y="332.57" width="2.6" height="1.50" fill="#fff" stroke="#666" stroke-width="0.8"/>
<rect x="530.73" y="332.50" width="1" height="15.60" fill="#6a6a6a"/>
<rect x="529.53" y="333.75" width="3.4" height="9.00" fill="#4a4a4a"/>
<rect x="534.81" y="329.40" width="1" height="14.10" fill="#6a6a6a"/>
<rect x="534.06" y="335.85" width="2.5" height="7.20" fill="#fff" stroke="#666" stroke-width="0.85"/>
<rect x="538.90" y="337.50" width="1" height="9.00" fill="#6a6a6a"/>
<rect x="537.70" y="337.50" width="3.4" height="9.00" fill="#4a4a4a"/>
<rect x="542.98" y="335.60" width="1" height="13.80" fill="#6a6a6a"/>
<rect x="542.23" y="341.70" width="2.5" height="3.45" fill="#fff" stroke="#666" stroke-width="0.85"/>
<rect x="547.06" y="335.60" width="1" height="10.65" fill="#6a6a6a"/>
<rect x="545.86" y="340.40" width="3.4" height="3.35" fill="#4a4a4a"/>
<rect x="551.15" y="334.40" width="1" height="14.10" fill="#6a6a6a"/>
<rect x="549.95" y="343.10" width="3.4" height="5.40" fill="#4a4a4a"/>
<rect x="555.23" y="344.40" width="1" height="16.20" fill="#6a6a6a"/>
<rect x="554.03" y="346.00" width="3.4" height="9.60" fill="#4a4a4a"/>
<rect x="559.31" y="354.40" width="1" height="17.50" fill="#6a6a6a"/>
<rect x="558.11" y="357.50" width="3.4" height="12.50" fill="#4a4a4a"/>
<rect x="563.40" y="353.75" width="1" height="15.65" fill="#6a6a6a"/>
<rect x="562.60" y="367.50" width="2.6" height="1.50" fill="#fff" stroke="#666" stroke-width="0.8"/>
<rect x="567.48" y="363.10" width="1" height="26.40" fill="#6a6a6a"/>
<rect x="566.73" y="364.85" width="2.5" height="19.70" fill="#fff" stroke="#666" stroke-width="0.85"/>
<rect x="571.56" y="356.50" width="1" height="11.00" fill="#6a6a6a"/>
<rect x="570.81" y="356.95" width="2.5" height="5.70" fill="#fff" stroke="#666" stroke-width="0.85"/>
<rect x="575.65" y="346.25" width="1" height="9.75" fill="#6a6a6a"/>
<rect x="574.90" y="351.05" width="2.5" height="3.50" fill="#fff" stroke="#666" stroke-width="0.85"/>
<rect x="579.73" y="350.00" width="1" height="15.00" fill="#6a6a6a"/>
<rect x="578.53" y="351.25" width="3.4" height="5.65" fill="#4a4a4a"/>
<rect x="583.81" y="353.10" width="1" height="19.40" fill="#6a6a6a"/>
<rect x="582.61" y="354.40" width="3.4" height="17.10" fill="#4a4a4a"/>
<rect x="587.90" y="352.50" width="1" height="21.00" fill="#6a6a6a"/>
<rect x="587.15" y="354.85" width="2.5" height="18.20" fill="#fff" stroke="#666" stroke-width="0.85"/>
<rect x="591.98" y="353.10" width="1" height="12.50" fill="#6a6a6a"/>
<rect x="590.78" y="356.25" width="3.4" height="3.15" fill="#4a4a4a"/>
<rect x="596.06" y="343.10" width="1" height="17.50" fill="#6a6a6a"/>
<rect x="595.31" y="345.85" width="2.5" height="10.60" fill="#fff" stroke="#666" stroke-width="0.85"/>
<rect x="600.15" y="346.25" width="1" height="10.25" fill="#6a6a6a"/>
<rect x="599.40" y="347.70" width="2.5" height="3.45" fill="#fff" stroke="#666" stroke-width="0.85"/>
<rect x="604.23" y="334.10" width="1" height="17.15" fill="#6a6a6a"/>
<rect x="603.48" y="337.05" width="2.5" height="6.00" fill="#fff" stroke="#666" stroke-width="0.85"/>
<rect x="608.31" y="326.25" width="1" height="13.75" fill="#6a6a6a"/>
<rect x="607.56" y="327.95" width="2.5" height="4.10" fill="#fff" stroke="#666" stroke-width="0.85"/>
<rect x="612.39" y="328.50" width="1" height="10.90" fill="#6a6a6a"/>
<rect x="611.19" y="330.00" width="3.4" height="8.50" fill="#4a4a4a"/>
<rect x="616.48" y="316.25" width="1" height="22.25" fill="#6a6a6a"/>
<rect x="615.73" y="322.05" width="2.5" height="16.00" fill="#fff" stroke="#666" stroke-width="0.85"/>
<rect x="620.56" y="338.75" width="1" height="15.00" fill="#6a6a6a"/>
<rect x="619.81" y="342.95" width="2.5" height="4.70" fill="#fff" stroke="#666" stroke-width="0.85"/>
<rect x="624.64" y="335.60" width="1" height="26.90" fill="#6a6a6a"/>
<rect x="623.44" y="342.25" width="3.4" height="19.00" fill="#4a4a4a"/>
<rect x="628.73" y="348.10" width="1" height="14.40" fill="#6a6a6a"/>
<rect x="627.98" y="349.85" width="2.5" height="6.95" fill="#fff" stroke="#666" stroke-width="0.85"/>
<rect x="632.81" y="344.40" width="1" height="8.70" fill="#6a6a6a"/>
<rect x="631.61" y="349.40" width="3.4" height="3.10" fill="#4a4a4a"/>
<rect x="636.89" y="349.40" width="1" height="9.35" fill="#6a6a6a"/>
<rect x="635.69" y="351.60" width="3.4" height="5.90" fill="#4a4a4a"/>
<rect x="640.98" y="347.25" width="1" height="10.65" fill="#6a6a6a"/>
<rect x="640.23" y="347.70" width="2.5" height="6.35" fill="#fff" stroke="#666" stroke-width="0.85"/>
<rect x="645.06" y="341.60" width="1" height="11.30" fill="#6a6a6a"/>
<rect x="643.86" y="347.25" width="3.4" height="1.25" fill="#4a4a4a"/>
<rect x="649.14" y="342.00" width="1" height="7.75" fill="#6a6a6a"/>
<rect x="647.94" y="343.75" width="3.4" height="2.25" fill="#4a4a4a"/>
<rect x="653.23" y="343.75" width="1" height="1.65" fill="#6a6a6a"/>
<rect x="652.43" y="343.82" width="2.6" height="1.50" fill="#fff" stroke="#666" stroke-width="0.8"/>
<rect x="657.31" y="332.00" width="1" height="10.25" fill="#6a6a6a"/>
<rect x="656.51" y="340.57" width="2.6" height="1.50" fill="#fff" stroke="#666" stroke-width="0.8"/>
<rect x="661.39" y="341.60" width="1" height="11.90" fill="#6a6a6a"/>
<rect x="660.19" y="342.90" width="3.4" height="1.85" fill="#4a4a4a"/>
<rect x="665.48" y="335.00" width="1" height="11.00" fill="#6a6a6a"/>
<rect x="664.73" y="337.70" width="2.5" height="5.35" fill="#fff" stroke="#666" stroke-width="0.85"/>
<rect x="669.56" y="339.10" width="1" height="23.50" fill="#6a6a6a"/>
<rect x="668.36" y="339.10" width="3.4" height="17.90" fill="#4a4a4a"/>
<rect x="673.64" y="342.25" width="1" height="16.65" fill="#6a6a6a"/>
<rect x="672.89" y="349.95" width="2.5" height="8.50" fill="#fff" stroke="#666" stroke-width="0.85"/>
<rect x="677.73" y="351.00" width="1" height="9.00" fill="#6a6a6a"/>
<rect x="676.53" y="351.00" width="3.4" height="9.00" fill="#4a4a4a"/>
<rect x="681.81" y="360.75" width="1" height="13.75" fill="#6a6a6a"/>
<rect x="680.61" y="360.75" width="3.4" height="9.00" fill="#4a4a4a"/>
<rect x="685.89" y="372.00" width="1" height="10.25" fill="#6a6a6a"/>
<rect x="684.69" y="373.50" width="3.4" height="8.75" fill="#4a4a4a"/>
<rect x="689.98" y="378.25" width="1" height="9.25" fill="#6a6a6a"/>
<rect x="688.78" y="379.75" width="3.4" height="5.00" fill="#4a4a4a"/>
<rect x="694.06" y="377.00" width="1" height="15.25" fill="#6a6a6a"/>
<rect x="693.31" y="381.70" width="2.5" height="3.60" fill="#fff" stroke="#666" stroke-width="0.85"/>
<rect x="698.14" y="376.25" width="1" height="6.25" fill="#6a6a6a"/>
<rect x="696.94" y="378.50" width="3.4" height="4.00" fill="#4a4a4a"/>
<rect x="702.23" y="378.25" width="1" height="10.85" fill="#6a6a6a"/>
<rect x="701.03" y="382.00" width="3.4" height="7.10" fill="#4a4a4a"/>
<rect x="706.31" y="390.40" width="1" height="13.10" fill="#6a6a6a"/>
<rect x="705.11" y="391.60" width="3.4" height="10.40" fill="#4a4a4a"/>
<rect x="710.39" y="400.75" width="1" height="15.55" fill="#6a6a6a"/>
<rect x="709.64" y="407.70" width="2.5" height="5.95" fill="#fff" stroke="#666" stroke-width="0.85"/>
<rect x="714.48" y="402.50" width="1" height="3.50" fill="#6a6a6a"/>
<rect x="713.68" y="404.30" width="2.6" height="1.50" fill="#fff" stroke="#666" stroke-width="0.8"/>
<rect x="718.56" y="398.50" width="1" height="9.40" fill="#6a6a6a"/>
<rect x="717.81" y="398.95" width="2.5" height="6.35" fill="#fff" stroke="#666" stroke-width="0.85"/>
<rect x="722.64" y="391.00" width="1" height="9.75" fill="#6a6a6a"/>
<rect x="721.89" y="392.45" width="2.5" height="5.60" fill="#fff" stroke="#666" stroke-width="0.85"/>
<rect x="726.73" y="386.60" width="1" height="8.80" fill="#6a6a6a"/>
<rect x="725.98" y="387.95" width="2.5" height="4.50" fill="#fff" stroke="#666" stroke-width="0.85"/>
<rect x="730.81" y="383.50" width="1" height="6.90" fill="#6a6a6a"/>
<rect x="729.61" y="386.00" width="3.4" height="3.10" fill="#4a4a4a"/>
<rect x="734.89" y="386.60" width="1" height="6.90" fill="#6a6a6a"/>
<rect x="733.69" y="388.25" width="3.4" height="5.25" fill="#4a4a4a"/>
<rect x="738.98" y="367.90" width="1" height="23.10" fill="#6a6a6a"/>
<rect x="738.23" y="369.55" width="2.5" height="21.00" fill="#fff" stroke="#666" stroke-width="0.85"/>
<rect x="743.06" y="363.25" width="1" height="11.75" fill="#6a6a6a"/>
<rect x="741.86" y="369.10" width="3.4" height="5.90" fill="#4a4a4a"/>
<rect x="747.14" y="366.60" width="1" height="10.90" fill="#6a6a6a"/>
<rect x="745.94" y="372.90" width="3.4" height="4.60" fill="#4a4a4a"/>
<rect x="751.23" y="368.50" width="1" height="8.75" fill="#6a6a6a"/>
<rect x="750.48" y="371.70" width="2.5" height="5.10" fill="#fff" stroke="#666" stroke-width="0.85"/>
<rect x="755.31" y="350.40" width="1" height="22.85" fill="#6a6a6a"/>
<rect x="754.56" y="350.85" width="2.5" height="21.95" fill="#fff" stroke="#666" stroke-width="0.85"/>
<rect x="759.39" y="344.10" width="1" height="15.40" fill="#6a6a6a"/>
<rect x="758.19" y="348.50" width="3.4" height="3.10" fill="#4a4a4a"/>
<rect x="763.48" y="335.40" width="1" height="19.10" fill="#6a6a6a"/>
<rect x="762.73" y="340.85" width="2.5" height="13.20" fill="#fff" stroke="#666" stroke-width="0.85"/>
<rect x="767.56" y="330.60" width="1" height="10.00" fill="#6a6a6a"/>
<rect x="766.81" y="337.35" width="2.5" height="2.80" fill="#fff" stroke="#666" stroke-width="0.85"/>
<rect x="771.64" y="336.25" width="1" height="8.75" fill="#6a6a6a"/>
<rect x="770.44" y="336.25" width="3.4" height="6.85" fill="#4a4a4a"/>
<rect x="775.73" y="335.60" width="1" height="15.00" fill="#6a6a6a"/>
<rect x="774.53" y="340.85" width="3.4" height="0.90" fill="#4a4a4a"/>
<rect x="779.81" y="354.40" width="1" height="12.50" fill="#6a6a6a"/>
<rect x="778.61" y="356.25" width="3.4" height="5.00" fill="#4a4a4a"/>
<rect x="783.89" y="345.00" width="1" height="15.00" fill="#6a6a6a"/>
<rect x="783.14" y="353.95" width="2.5" height="5.60" fill="#fff" stroke="#666" stroke-width="0.85"/>
<rect x="787.98" y="353.50" width="1" height="14.00" fill="#6a6a6a"/>
<rect x="786.78" y="353.50" width="3.4" height="10.90" fill="#4a4a4a"/>
<rect x="792.06" y="357.25" width="1" height="8.00" fill="#6a6a6a"/>
<rect x="790.86" y="362.75" width="3.4" height="2.50" fill="#4a4a4a"/>
<rect x="796.14" y="332.25" width="1" height="26.25" fill="#6a6a6a"/>
<rect x="795.39" y="336.95" width="2.5" height="21.10" fill="#fff" stroke="#666" stroke-width="0.85"/>
<rect x="800.23" y="318.10" width="1" height="20.65" fill="#6a6a6a"/>
<rect x="799.48" y="326.05" width="2.5" height="9.75" fill="#fff" stroke="#666" stroke-width="0.85"/>
<rect x="804.31" y="315.00" width="1" height="20.60" fill="#6a6a6a"/>
<rect x="803.11" y="323.75" width="3.4" height="11.85" fill="#4a4a4a"/>
<rect x="808.39" y="328.10" width="1" height="18.80" fill="#6a6a6a"/>
<rect x="807.19" y="331.25" width="3.4" height="12.50" fill="#4a4a4a"/>
<rect x="812.48" y="323.10" width="1" height="21.65" fill="#6a6a6a"/>
<rect x="811.73" y="325.20" width="2.5" height="19.10" fill="#fff" stroke="#666" stroke-width="0.85"/>
<rect x="816.56" y="306.25" width="1" height="22.50" fill="#6a6a6a"/>
<rect x="815.81" y="317.95" width="2.5" height="2.85" fill="#fff" stroke="#666" stroke-width="0.85"/>
<rect x="820.64" y="315.00" width="1" height="10.60" fill="#6a6a6a"/>
<rect x="819.44" y="318.95" width="3.4" height="0.90" fill="#4a4a4a"/>
<rect x="824.73" y="308.10" width="1" height="20.65" fill="#6a6a6a"/>
<rect x="823.98" y="309.45" width="2.5" height="5.35" fill="#fff" stroke="#666" stroke-width="0.85"/>
<rect x="828.81" y="292.50" width="1" height="17.50" fill="#6a6a6a"/>
<rect x="828.06" y="292.95" width="2.5" height="13.10" fill="#fff" stroke="#666" stroke-width="0.85"/>
<rect x="832.89" y="270.20" width="1" height="39.80" fill="#6a6a6a"/>
<rect x="832.14" y="270.65" width="2.5" height="13.90" fill="#fff" stroke="#666" stroke-width="0.85"/>
<rect x="836.98" y="179.80" width="1" height="73.90" fill="#6a6a6a"/>
<rect x="836.23" y="193.25" width="2.5" height="50.50" fill="#fff" stroke="#666" stroke-width="0.85"/>
<rect x="841.06" y="132.80" width="1" height="62.50" fill="#6a6a6a"/>
<rect x="840.31" y="172.95" width="2.5" height="17.40" fill="#fff" stroke="#666" stroke-width="0.85"/>
<rect x="845.14" y="153.10" width="1" height="43.40" fill="#6a6a6a"/>
<rect x="843.94" y="160.10" width="3.4" height="26.30" fill="#4a4a4a"/>
<rect x="849.23" y="176.20" width="1" height="60.80" fill="#6a6a6a"/>
<rect x="848.03" y="182.00" width="3.4" height="34.50" fill="#4a4a4a"/>
<rect x="853.31" y="217.20" width="1" height="27.00" fill="#6a6a6a"/>
<rect x="852.11" y="217.20" width="3.4" height="13.20" fill="#4a4a4a"/>
<rect x="857.39" y="238.40" width="1" height="27.70" fill="#6a6a6a"/>
<rect x="856.19" y="243.50" width="3.4" height="17.20" fill="#4a4a4a"/>
<rect x="861.48" y="241.00" width="1" height="20.75" fill="#6a6a6a"/>
<rect x="860.28" y="252.70" width="3.4" height="9.05" fill="#4a4a4a"/>
<rect x="865.56" y="256.00" width="1" height="7.20" fill="#6a6a6a"/>
<rect x="864.36" y="258.10" width="3.4" height="3.65" fill="#4a4a4a"/>
<rect x="869.64" y="204.80" width="1" height="58.40" fill="#6a6a6a"/>
<rect x="868.89" y="211.15" width="2.5" height="44.30" fill="#fff" stroke="#666" stroke-width="0.85"/>
<rect x="873.73" y="161.10" width="1" height="57.60" fill="#6a6a6a"/>
<rect x="872.98" y="171.95" width="2.5" height="36.80" fill="#fff" stroke="#666" stroke-width="0.85"/>
<rect x="877.81" y="96.10" width="1" height="75.40" fill="#6a6a6a"/>
<rect x="877.06" y="113.85" width="2.5" height="57.20" fill="#fff" stroke="#666" stroke-width="0.85"/>
<rect x="881.89" y="118.90" width="1" height="51.10" fill="#6a6a6a"/>
<rect x="880.69" y="131.20" width="3.4" height="29.90" fill="#4a4a4a"/>
<rect x="885.98" y="109.70" width="1" height="64.30" fill="#6a6a6a"/>
<rect x="885.23" y="117.45" width="2.5" height="53.20" fill="#fff" stroke="#666" stroke-width="0.85"/>
<rect x="890.06" y="47.80" width="1" height="80.80" fill="#6a6a6a"/>
<rect x="889.31" y="57.05" width="2.5" height="51.30" fill="#fff" stroke="#666" stroke-width="0.85"/>
<text x="40.6" y="382.0" font-size="12.5" fill="#000" stroke="#000" stroke-width="0.3" text-anchor="middle" font-weight="normal" textLength="37.6" lengthAdjust="spacingAndGlyphs">3325.0</text>
<text x="138.6" y="394.0" font-size="12.5" fill="#000" stroke="#000" stroke-width="0.3" text-anchor="middle" font-weight="normal" textLength="37.6" lengthAdjust="spacingAndGlyphs">2767.0</text>
<text x="265.2" y="407.2" font-size="12.5" fill="#000" stroke="#000" stroke-width="0.3" text-anchor="middle" font-weight="normal" textLength="37.6" lengthAdjust="spacingAndGlyphs">2153.0</text>
<text x="526.5" y="292.4" font-size="12.5" fill="#000" stroke="#000" stroke-width="0.3" text-anchor="middle" font-weight="normal" textLength="37.6" lengthAdjust="spacingAndGlyphs">7480.0</text>
<text x="616.4" y="288.3" font-size="12.5" fill="#000" stroke="#000" stroke-width="0.3" text-anchor="middle" font-weight="normal" textLength="37.6" lengthAdjust="spacingAndGlyphs">7670.0</text>
<text x="89.6" y="470.6" font-size="12.5" fill="#000" stroke="#000" stroke-width="0.3" text-anchor="middle" font-weight="normal" textLength="37.6" lengthAdjust="spacingAndGlyphs">2167.0</text>
<text x="220.3" y="477.5" font-size="12.5" fill="#000" stroke="#000" stroke-width="0.3" text-anchor="middle" font-weight="normal" textLength="37.6" lengthAdjust="spacingAndGlyphs">1849.0</text>
<text x="306.0" y="478.7" font-size="12.5" fill="#000" stroke="#000" stroke-width="0.3" text-anchor="middle" font-weight="normal" textLength="37.6" lengthAdjust="spacingAndGlyphs">1790.0</text>
<text x="567.4" y="425.3" font-size="12.5" fill="#000" stroke="#000" stroke-width="0.3" text-anchor="middle" font-weight="normal" textLength="37.6" lengthAdjust="spacingAndGlyphs">4270.0</text>
<text x="710.3" y="452.1" font-size="12.5" fill="#000" stroke="#000" stroke-width="0.3" text-anchor="middle" font-weight="normal" textLength="37.6" lengthAdjust="spacingAndGlyphs">3025.0</text>
<text x="962.4" y="11.5" font-size="12.5" fill="#131722" stroke="#131722" stroke-width="0.3" text-anchor="start" font-weight="normal" textLength="44.1" lengthAdjust="spacingAndGlyphs">22000.0</text>
<text x="962.4" y="54.6" font-size="12.5" fill="#131722" stroke="#131722" stroke-width="0.3" text-anchor="start" font-weight="normal" textLength="44.1" lengthAdjust="spacingAndGlyphs">20000.0</text>
<text x="962.4" y="97.7" font-size="12.5" fill="#131722" stroke="#131722" stroke-width="0.3" text-anchor="start" font-weight="normal" textLength="44.1" lengthAdjust="spacingAndGlyphs">18000.0</text>
<text x="962.4" y="140.8" font-size="12.5" fill="#131722" stroke="#131722" stroke-width="0.3" text-anchor="start" font-weight="normal" textLength="44.1" lengthAdjust="spacingAndGlyphs">16000.0</text>
<text x="962.4" y="183.9" font-size="12.5" fill="#131722" stroke="#131722" stroke-width="0.3" text-anchor="start" font-weight="normal" textLength="44.1" lengthAdjust="spacingAndGlyphs">14000.0</text>
<text x="962.4" y="227.0" font-size="12.5" fill="#131722" stroke="#131722" stroke-width="0.3" text-anchor="start" font-weight="normal" textLength="44.1" lengthAdjust="spacingAndGlyphs">12000.0</text>
<text x="962.4" y="270.0" font-size="12.5" fill="#131722" stroke="#131722" stroke-width="0.3" text-anchor="start" font-weight="normal" textLength="44.1" lengthAdjust="spacingAndGlyphs">10000.0</text>
<text x="962.4" y="313.1" font-size="12.5" fill="#131722" stroke="#131722" stroke-width="0.3" text-anchor="start" font-weight="normal" textLength="38.0" lengthAdjust="spacingAndGlyphs">8000.0</text>
<text x="962.4" y="356.2" font-size="12.5" fill="#131722" stroke="#131722" stroke-width="0.3" text-anchor="start" font-weight="normal" textLength="38.0" lengthAdjust="spacingAndGlyphs">6000.0</text>
<text x="962.4" y="399.3" font-size="12.5" fill="#131722" stroke="#131722" stroke-width="0.3" text-anchor="start" font-weight="normal" textLength="38.0" lengthAdjust="spacingAndGlyphs">4000.0</text>
<text x="962.4" y="442.4" font-size="12.5" fill="#131722" stroke="#131722" stroke-width="0.3" text-anchor="start" font-weight="normal" textLength="38.0" lengthAdjust="spacingAndGlyphs">2000.0</text>
<clipPath id="c0"><rect x="950" y="470" width="74" height="11.8"/></clipPath>
<text x="962.4" y="485.5" font-size="12.5" fill="#131722" stroke="#131722" stroke-width="0.3" text-anchor="start" font-weight="normal" textLength="18.1" lengthAdjust="spacingAndGlyphs" clip-path="url(#c0)">0.0</text>
<text x="963.0" y="521.9" font-size="12.5" fill="#131722" stroke="#131722" stroke-width="0.3" text-anchor="start" font-weight="normal" textLength="21.2" lengthAdjust="spacingAndGlyphs">15M</text>
<text x="963.0" y="556.4" font-size="12.5" fill="#131722" stroke="#131722" stroke-width="0.3" text-anchor="start" font-weight="normal" textLength="33.5" lengthAdjust="spacingAndGlyphs">12.5M</text>
<text x="963.0" y="590.9" font-size="12.5" fill="#131722" stroke="#131722" stroke-width="0.3" text-anchor="start" font-weight="normal" textLength="21.2" lengthAdjust="spacingAndGlyphs">10M</text>
<text x="963.0" y="625.4" font-size="12.5" fill="#131722" stroke="#131722" stroke-width="0.3" text-anchor="start" font-weight="normal" textLength="27.0" lengthAdjust="spacingAndGlyphs">7.5M</text>
<text x="963.0" y="659.9" font-size="12.5" fill="#131722" stroke="#131722" stroke-width="0.3" text-anchor="start" font-weight="normal" textLength="15.0" lengthAdjust="spacingAndGlyphs">5M</text>
<text x="963.0" y="694.4" font-size="12.5" fill="#131722" stroke="#131722" stroke-width="0.3" text-anchor="start" font-weight="normal" textLength="27.0" lengthAdjust="spacingAndGlyphs">2.5M</text>
<rect x="951.3" y="46.70" width="62" height="18.4" rx="2" fill="#4a4a4a"/>
<text x="962.4" y="60.4" font-size="12.5" fill="#fff" stroke="#fff" stroke-width="0.3" text-anchor="start" font-weight="normal" textLength="44.1" lengthAdjust="spacingAndGlyphs">19720.0</text>
<rect x="951.3" y="177.10" width="62.5" height="18.4" rx="2" fill="#5b94dc"/>
<text x="962.4" y="190.8" font-size="12.5" fill="#fff" stroke="#fff" stroke-width="0.3" text-anchor="start" font-weight="normal" textLength="44.1" lengthAdjust="spacingAndGlyphs">13687.7</text>
<rect x="951.3" y="241.60" width="62.5" height="18.4" rx="2" fill="#e8767c"/>
<text x="962.4" y="255.3" font-size="12.5" fill="#fff" stroke="#fff" stroke-width="0.3" text-anchor="start" font-weight="normal" textLength="44.1" lengthAdjust="spacingAndGlyphs">10696.2</text>
<rect x="951.3" y="303.70" width="54.7" height="18.4" rx="2" fill="#5cb65c"/>
<text x="962.4" y="317.4" font-size="12.5" fill="#000" stroke="#000" stroke-width="0.3" text-anchor="start" font-weight="normal" textLength="38.0" lengthAdjust="spacingAndGlyphs">7826.3</text>
<rect x="951.3" y="635.50" width="57.6" height="17.8" rx="2" fill="#5b94dc"/>
<text x="962.4" y="648.9" font-size="12.5" fill="#fff" stroke="#fff" stroke-width="0.3" text-anchor="start" font-weight="normal" textLength="41.2" lengthAdjust="spacingAndGlyphs">5.792M</text>
<text x="16.4" y="744.9" font-size="12.5" fill="#131722" stroke="#131722" stroke-width="0" text-anchor="middle" font-weight="bold" textLength="28.3" lengthAdjust="spacingAndGlyphs">2022</text>
<text x="106.0" y="744.9" font-size="12.5" fill="#131722" stroke="#131722" stroke-width="0.3" text-anchor="middle" font-weight="normal" textLength="17.5" lengthAdjust="spacingAndGlyphs">6月</text>
<text x="228.8" y="744.9" font-size="12.5" fill="#131722" stroke="#131722" stroke-width="0" text-anchor="middle" font-weight="bold" textLength="28.3" lengthAdjust="spacingAndGlyphs">2023</text>
<text x="318.3" y="744.9" font-size="12.5" fill="#131722" stroke="#131722" stroke-width="0.3" text-anchor="middle" font-weight="normal" textLength="17.5" lengthAdjust="spacingAndGlyphs">6月</text>
<text x="441.1" y="744.9" font-size="12.5" fill="#131722" stroke="#131722" stroke-width="0" text-anchor="middle" font-weight="bold" textLength="28.3" lengthAdjust="spacingAndGlyphs">2024</text>
<text x="530.6" y="744.9" font-size="12.5" fill="#131722" stroke="#131722" stroke-width="0.3" text-anchor="middle" font-weight="normal" textLength="17.5" lengthAdjust="spacingAndGlyphs">6月</text>
<text x="657.5" y="744.9" font-size="12.5" fill="#131722" stroke="#131722" stroke-width="0" text-anchor="middle" font-weight="bold" textLength="28.3" lengthAdjust="spacingAndGlyphs">2025</text>
<text x="743.0" y="744.9" font-size="12.5" fill="#131722" stroke="#131722" stroke-width="0.3" text-anchor="middle" font-weight="normal" textLength="17.5" lengthAdjust="spacingAndGlyphs">6月</text>
<text x="869.8" y="744.9" font-size="12.5" fill="#131722" stroke="#131722" stroke-width="0" text-anchor="middle" font-weight="bold" textLength="28.3" lengthAdjust="spacingAndGlyphs">2026</text>
<rect x="8" y="5" width="553" height="23" fill="#fff" opacity="0.85"/>
<rect x="8" y="28.5" width="178" height="15.2" fill="#fff" opacity="0.85"/>
<rect x="8" y="45" width="178" height="15.2" fill="#fff" opacity="0.85"/>
<rect x="8" y="61.3" width="171" height="15.2" fill="#fff" opacity="0.85"/>
<rect x="8" y="77.7" width="179" height="15.2" fill="#fff" opacity="0.85"/>
<rect x="8" y="490" width="190" height="16.4" fill="#fff" opacity="0.85"/>
<text x="9.6" y="23.0" font-size="16" fill="#131722" stroke="#131722" stroke-width="0.3" text-anchor="start" font-weight="normal" textLength="50.0" lengthAdjust="spacingAndGlyphs">日東紡</text>
<text x="67.4" y="18.7" font-size="17" fill="#131722" stroke="#131722" stroke-width="0.3" text-anchor="middle" font-weight="normal">·</text>
<text x="75.2" y="23.0" font-size="16" fill="#131722" stroke="#131722" stroke-width="0.3" text-anchor="start" font-weight="normal" textLength="23.2" lengthAdjust="spacingAndGlyphs">1週</text>
<text x="114.5" y="21.2" font-size="13" fill="#131722" stroke="#131722" stroke-width="0.3" text-anchor="start" font-weight="normal" textLength="27.2" lengthAdjust="spacingAndGlyphs">始値</text>
<text x="144.0" y="21.2" font-size="13" fill="#3c3c3c" stroke="#3c3c3c" stroke-width="0.3" text-anchor="start" font-weight="normal" textLength="46.2" lengthAdjust="spacingAndGlyphs">17300.0</text>
<text x="198.4" y="21.2" font-size="13" fill="#131722" stroke="#131722" stroke-width="0.3" text-anchor="start" font-weight="normal" textLength="26.0" lengthAdjust="spacingAndGlyphs">高値</text>
<text x="226.0" y="21.2" font-size="13" fill="#3c3c3c" stroke="#3c3c3c" stroke-width="0.3" text-anchor="start" font-weight="normal" textLength="48.6" lengthAdjust="spacingAndGlyphs">20130.0</text>
<text x="281.0" y="21.2" font-size="13" fill="#131722" stroke="#131722" stroke-width="0.3" text-anchor="start" font-weight="normal" textLength="26.4" lengthAdjust="spacingAndGlyphs">安値</text>
<text x="309.3" y="21.2" font-size="13" fill="#3c3c3c" stroke="#3c3c3c" stroke-width="0.3" text-anchor="start" font-weight="normal" textLength="48.4" lengthAdjust="spacingAndGlyphs">16380.0</text>
<text x="365.2" y="21.2" font-size="13" fill="#131722" stroke="#131722" stroke-width="0.3" text-anchor="start" font-weight="normal" textLength="26.2" lengthAdjust="spacingAndGlyphs">終値</text>
<text x="393.7" y="21.2" font-size="13" fill="#3c3c3c" stroke="#3c3c3c" stroke-width="0.3" text-anchor="start" font-weight="normal" textLength="46.0" lengthAdjust="spacingAndGlyphs">19720.0</text>
<text x="449.0" y="21.2" font-size="13" fill="#3c3c3c" stroke="#3c3c3c" stroke-width="0.3" text-anchor="start" font-weight="normal" textLength="45.8" lengthAdjust="spacingAndGlyphs">+2820.0</text>
<text x="501.0" y="21.2" font-size="13" fill="#3c3c3c" stroke="#3c3c3c" stroke-width="0.3" text-anchor="start" font-weight="normal" textLength="57.5" lengthAdjust="spacingAndGlyphs">(+16.69%)</text>
<text x="9.8" y="41.2" font-size="12.5" fill="#131722" stroke="#131722" stroke-width="0.3" text-anchor="start" font-weight="normal" textLength="16.0" lengthAdjust="spacingAndGlyphs">MA</text>
<text x="31.2" y="41.2" font-size="12.5" fill="#6d707b" stroke="#6d707b" stroke-width="0.3" text-anchor="start" font-weight="normal" textLength="91.8" lengthAdjust="spacingAndGlyphs">13 close 0 SMA 9</text>
<text x="138.7" y="41.2" font-size="12.5" fill="#4d8fdc" stroke="#4d8fdc" stroke-width="0.3" text-anchor="start" font-weight="normal" textLength="43.9" lengthAdjust="spacingAndGlyphs">13687.7</text>
<text x="9.8" y="57.6" font-size="12.5" fill="#131722" stroke="#131722" stroke-width="0.3" text-anchor="start" font-weight="normal" textLength="16.0" lengthAdjust="spacingAndGlyphs">MA</text>
<text x="31.2" y="57.6" font-size="12.5" fill="#6d707b" stroke="#6d707b" stroke-width="0.3" text-anchor="start" font-weight="normal" textLength="91.8" lengthAdjust="spacingAndGlyphs">26 close 0 SMA 9</text>
<text x="139.0" y="57.6" font-size="12.5" fill="#e7696f" stroke="#e7696f" stroke-width="0.3" text-anchor="start" font-weight="normal" textLength="43.6" lengthAdjust="spacingAndGlyphs">10696.2</text>
<text x="9.8" y="73.9" font-size="12.5" fill="#131722" stroke="#131722" stroke-width="0.3" text-anchor="start" font-weight="normal" textLength="16.0" lengthAdjust="spacingAndGlyphs">MA</text>
<text x="31.2" y="73.9" font-size="12.5" fill="#6d707b" stroke="#6d707b" stroke-width="0.3" text-anchor="start" font-weight="normal" textLength="91.8" lengthAdjust="spacingAndGlyphs">52 close 0 SMA 9</text>
<text x="138.7" y="73.9" font-size="12.5" fill="#5bb75b" stroke="#5bb75b" stroke-width="0.3" text-anchor="start" font-weight="normal" textLength="37.1" lengthAdjust="spacingAndGlyphs">7826.3</text>
<text x="9.8" y="90.4" font-size="12.5" fill="#131722" stroke="#131722" stroke-width="0.3" text-anchor="start" font-weight="normal" textLength="51.7" lengthAdjust="spacingAndGlyphs">Pivots HL</text>
<text x="66.8" y="90.4" font-size="12.5" fill="#6d707b" stroke="#6d707b" stroke-width="0.3" text-anchor="start" font-weight="normal" textLength="63.1" lengthAdjust="spacingAndGlyphs">10 10 10 10</text>
<text x="146.1" y="90.4" font-size="12.5" fill="#000" stroke="#000" stroke-width="0.3" text-anchor="start" font-weight="normal" textLength="37.5" lengthAdjust="spacingAndGlyphs">3025.0</text>
<rect x="10.4" y="96.2" width="29.3" height="21.1" rx="4" fill="#fff" fill-opacity="0.5" stroke="#dfe2ea" stroke-width="1"/>
<polyline points="20.7,108.4 24.7,104.8 28.7,108.4" fill="none" stroke="#131722" stroke-width="1.4" stroke-linejoin="round"/>
<text x="10.0" y="502.8" font-size="12.5" fill="#131722" stroke="#131722" stroke-width="0.3" text-anchor="start" font-weight="normal" textLength="92.5" lengthAdjust="spacingAndGlyphs">Volume (出来高)</text>
<text x="107.5" y="502.8" font-size="12.5" fill="#6d707b" stroke="#6d707b" stroke-width="0.3" text-anchor="start" font-weight="normal" textLength="30.5" lengthAdjust="spacingAndGlyphs">SMA 9</text>
<text x="154.5" y="502.8" font-size="12.5" fill="#4d8fdc" stroke="#4d8fdc" stroke-width="0.3" text-anchor="start" font-weight="normal" textLength="40.0" lengthAdjust="spacingAndGlyphs">5.792M</text>
<circle cx="25.4" cy="701.5" r="17.6" fill="#fff" stroke="#dcdcdc" stroke-width="1"/>
<path d="M14.2 696.5H23.7V707.7H19.4V700.6H14.2Z" fill="#131722"/>
<circle cx="27" cy="698.5" r="1.95" fill="#131722"/>
<path d="M31.4 696.4H36.9L32.5 707.7H27.2Z" fill="#131722"/>
</svg>
</body></html>
